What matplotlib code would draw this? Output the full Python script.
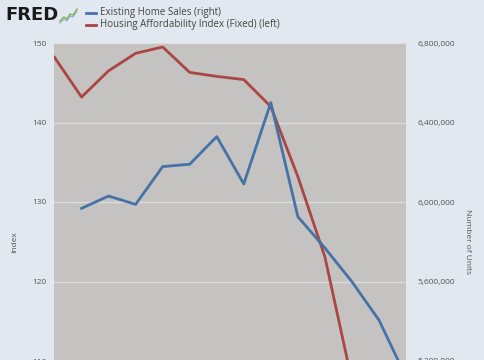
import matplotlib
matplotlib.use("Agg")
import matplotlib.pyplot as plt
from matplotlib.ticker import FuncFormatter, FixedLocator

# ---- data ----
periods = list(range(14))
affordability = [148.2, 143.2, 146.5, 148.7, 149.5, 146.3, 145.8, 145.4, 142.0, 133.2, 123.1, 107.5]
home_sales = [None, 5968000, 6030000, 5988000, 6178000, 6190000, 6329000, 6091000,
              6500000, 5926000, 5769000, 5599000, 5406000, 5120000]
left_ticks = [110, 120, 130, 140, 150]
right_ticks = [5200000, 5600000, 6000000, 6400000, 6800000]

BG = "#E1E8EF"
PLOT_BG = "#C5C3C1"
BLUE = "#4572A7"
RED = "#AA4643"
TXT = "#555555"

W, H = 485, 360
fig = plt.figure(figsize=(W / 100, H / 100), dpi=100, facecolor=BG)
plt.rcParams['font.family'] = ['Open Sans', 'DejaVu Sans']

# axes geometry in pixels
left_px, right_px, top_px = 54.5, 406, 43
px_per_unit = 7.95
ymin, ymax = 100, 150
bottom_px = top_px + (ymax - ymin) * px_per_unit
ax = fig.add_axes([left_px / W, 1 - bottom_px / H, (right_px - left_px) / W,
                   (bottom_px - top_px) / H])
ax.set_facecolor(PLOT_BG)
ax.set_xlim(periods[0], periods[-1])
ax.set_ylim(ymin, ymax)
for s in ax.spines.values():
    s.set_visible(False)
ax.set_xticks([])
ax.yaxis.set_major_locator(FixedLocator(left_ticks))
ax.tick_params(axis='y', length=0, pad=6, labelsize=6, labelcolor=TXT)
ax.grid(axis='y', color="#DCDCDC", linewidth=1)
ax.set_axisbelow(True)
ax.set_ylabel("Index", fontsize=6, color=TXT)
ax.yaxis.set_label_coords((18 - left_px) / (right_px - left_px), 0.5)

ax2 = ax.twinx()
ax2.set_ylim(6800000 - (ymax - ymin) / 10 * 400000, 6800000)
ax2.yaxis.set_major_locator(FixedLocator(right_ticks))
ax2.yaxis.set_major_formatter(FuncFormatter(lambda v, p: f"{int(v):,}"))
ax2.tick_params(axis='y', length=0, pad=8, labelsize=6, labelcolor=TXT)
for s in ax2.spines.values():
    s.set_visible(False)
ax2.set_ylabel("Number of Units", fontsize=6, color=TXT, rotation=270)
ax2.yaxis.set_label_coords((471 - left_px) / (right_px - left_px), 0.5)

ax.plot(periods[:len(affordability)], affordability, color=RED, linewidth=2, zorder=3)
xs = [p for p, v in zip(periods, home_sales) if v is not None]
ys = [v for v in home_sales if v is not None]
ax2.plot(xs, ys, color=BLUE, linewidth=2, zorder=3)

# header: FRED logo + legend
fig.text(5 / W, 1 - 15 / H, "FRED", fontsize=13, fontweight='bold', color="#1a1a1a",
         family='DejaVu Sans', va='center', ha='left')
# small logo sparkline
lx = [60, 64, 67, 70, 73, 77]
ly = [21, 17, 19, 14, 15, 9]
fig.add_artist(plt.Line2D([x / W for x in lx], [1 - y / H for y in ly],
                          color="#7FB24F", linewidth=1, transform=fig.transFigure))
fig.add_artist(plt.Line2D([x / W for x in lx], [1 - (y + 2) / H for y in ly],
                          color="#8FA8C8", linewidth=0.8, transform=fig.transFigure))

legend_items = [("Existing Home Sales (right)", BLUE, 13),
                ("Housing Affordability Index (Fixed) (left)", RED, 25)]
for label, col, ypx in legend_items:
    fig.add_artist(plt.Line2D([86 / W, 96 / W], [1 - ypx / H, 1 - ypx / H], color=col,
                              linewidth=2, transform=fig.transFigure))
    fig.text(100 / W, 1 - ypx / H, label, fontsize=7, color="#444444", va='center', ha='left')

fig.savefig("out.png", dpi=100, facecolor=BG)
